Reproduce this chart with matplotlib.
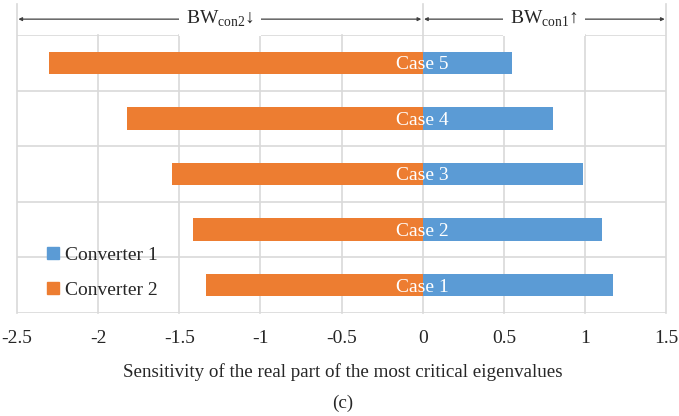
import matplotlib
matplotlib.use("Agg")
import matplotlib.pyplot as plt
from matplotlib.lines import Line2D

# ---- data ----
cases = ["Case 1", "Case 2", "Case 3", "Case 4", "Case 5"]
converter1 = [1.17, 1.105, 0.985, 0.80, 0.55]
converter2 = [-1.335, -1.415, -1.545, -1.82, -2.30]
xticks = [-2.5, -2, -1.5, -1, -0.5, 0, 0.5, 1, 1.5]
xtick_labels = ["-2.5", "-2", "-1.5", "-1", "-0.5", "0", "0.5", "1", "1.5"]

BLUE = "#5B9BD5"
ORANGE = "#ED7D31"
GRID = "#d9d9d9"
TXT = "#262626"

plt.rcParams["font.family"] = ["Liberation Serif", "DejaVu Serif"]
plt.rcParams["mathtext.fontset"] = "custom"
plt.rcParams["mathtext.rm"] = "Liberation Serif"
plt.rcParams["axes.unicode_minus"] = False

fig = plt.figure(figsize=(6.79, 4.16), dpi=100)
ax = fig.add_axes([0.025, 0.2476, 0.956, 0.6683])

y = range(len(cases))
ax.barh(y, converter1, height=0.4, color=BLUE, zorder=3, label="Converter 1")
ax.barh(y, converter2, height=0.4, color=ORANGE, zorder=3, label="Converter 2")

for i, name in enumerate(cases):
    ax.text(0, i, name, color="white", ha="center", va="center_baseline",
            fontsize=14, zorder=4)

ax.set_xlim(-2.5, 1.5)
ax.set_ylim(-0.5, len(cases) - 0.5)
ax.set_xticks(xticks, xtick_labels)
ax.set_yticks([])
ax.tick_params(axis="x", length=0, pad=12, labelsize=14, labelcolor=TXT)
for s in ax.spines.values():
    s.set_visible(False)

# grid: vertical at ticks, horizontal at category boundaries
for xv in xticks:
    top = 1.11 if xv in (-2.5, 0, 1.5) else 1.0
    ax.axvline(xv, ymin=0, ymax=top, color=GRID, lw=1.2, zorder=1, clip_on=False)
for k in range(len(cases) + 1):
    ax.axhline(k - 0.5, color=GRID, lw=1.2, zorder=1)

# bandwidth arrows above the plot
ya = 1.057
for x0, x1, xm, lab in [(-2.5, 0, -1.25, r"BW$_{\mathrm{con2}}$↓"),
                        (0, 1.5, 0.75, r"BW$_{\mathrm{con1}}$↑")]:
    ax.annotate("", xy=(x0, ya), xytext=(x1, ya),
                xycoords=("data", "axes fraction"),
                textcoords=("data", "axes fraction"),
                arrowprops=dict(arrowstyle="<|-|>", color="#404040", lw=0.9,
                                mutation_scale=5, shrinkA=1, shrinkB=1),
                annotation_clip=False)
    ax.text(xm, ya, lab, transform=ax.get_xaxis_transform(), ha="center",
            va="center", fontsize=14, color=TXT,
            bbox=dict(facecolor="white", edgecolor="none", pad=5), zorder=5)

handles = [Line2D([], [], marker="s", ls="", color=BLUE, markersize=8),
           Line2D([], [], marker="s", ls="", color=ORANGE, markersize=8)]
ax.legend(handles, ["Converter 1", "Converter 2"], loc="lower left",
          bbox_to_anchor=(0.016, -0.013), frameon=False, fontsize=14,
          labelspacing=0.9, handlelength=0.8, handletextpad=0.25,
          labelcolor=TXT)

fig.text(0.505, 1 - 372 / 416, "Sensitivity of the real part of the most critical eigenvalues",
         ha="center", va="center", fontsize=13.7, color=TXT)
fig.text(0.505, 1 - 403 / 416, "(c)", ha="center", va="center",
         fontsize=13.7, color=TXT)

fig.savefig("out.png", dpi=100)
